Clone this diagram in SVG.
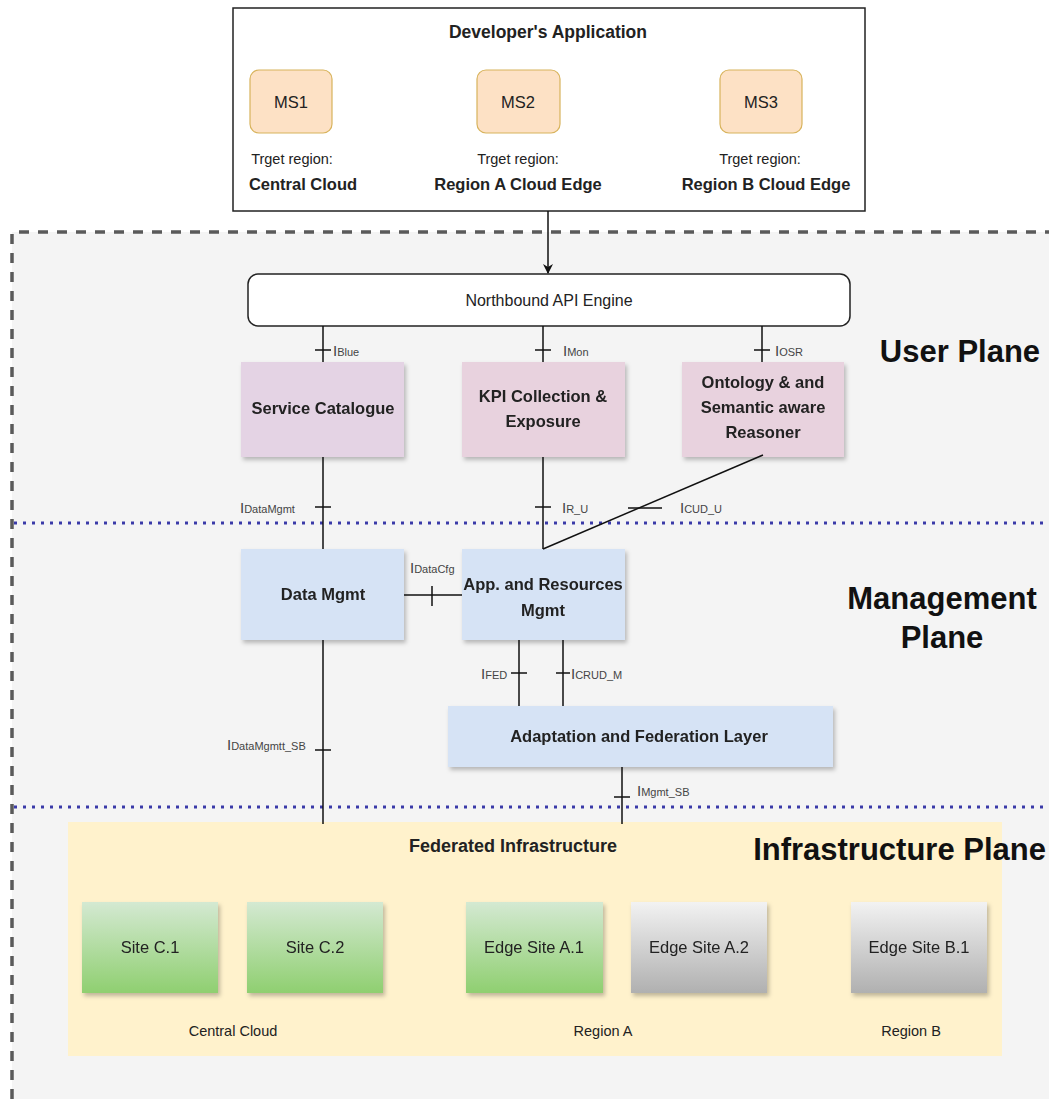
<svg xmlns="http://www.w3.org/2000/svg" width="1049" height="1099" viewBox="0 0 1049 1099">
  <style>
    text { font-family: "Liberation Sans", Arial, sans-serif; fill: #222; }
    .t { font-size: 16.5px; text-anchor: middle; }
    .b { font-weight: bold; }
    .reg { font-size: 14.5px; }
    .site { font-size: 16.5px; }
    .lbl { font-size: 15px; fill: #444; }
    .sub { font-size: 11px; }
    .plane { font-size: 31px; font-weight: bold; fill: #111; }
    .ms { fill: #fde1c5; stroke: #d8b35c; stroke-width: 1.2; }
    .up { fill: #e4d3e4; }
    .upk { fill: #e8d2de; }
    .mp { fill: #d6e3f5; }
    .wire { stroke: #111; stroke-width: 1.5; fill: none; }
    .tick { stroke: #111; stroke-width: 1.5; }
    .sep { stroke: #3a3aa8; stroke-width: 3; stroke-dasharray: 3 6; }
  </style>
  <defs>
    <marker id="arrow" markerWidth="10" markerHeight="10" refX="9" refY="5" orient="auto" markerUnits="userSpaceOnUse">
      <path d="M0,0 L10,5 L0,10 L3,5 Z" fill="#111"/>
    </marker>
    <linearGradient id="green" x1="0" y1="0" x2="0" y2="1">
      <stop offset="0" stop-color="#d4e9d2"/>
      <stop offset="1" stop-color="#8fcf70"/>
    </linearGradient>
    <linearGradient id="gray" x1="0" y1="0" x2="0" y2="1">
      <stop offset="0" stop-color="#f2f2f2"/>
      <stop offset="1" stop-color="#b0b0b0"/>
    </linearGradient>
    <filter id="shadow" x="-10%" y="-10%" width="125%" height="130%">
      <feDropShadow dx="2" dy="3" stdDeviation="2" flood-color="#000" flood-opacity="0.25"/>
    </filter>
  </defs>

  <!-- page background -->
  <rect x="0" y="0" width="1049" height="1099" fill="#ffffff"/>
  <!-- platform area -->
  <rect x="12" y="232" width="1037" height="867" fill="#f4f4f4"/>
  <path d="M12,1099 V232 H1049" fill="none" stroke="#5a5a5a" stroke-width="3.5" stroke-dasharray="10 9"/>

  <!-- plane separators -->
  <line class="sep" x1="14" y1="523" x2="1049" y2="523"/>
  <line class="sep" x1="14" y1="807" x2="1049" y2="807"/>

  <!-- plane titles -->
  <text class="plane" x="960" y="362" text-anchor="middle">User Plane</text>
  <text class="plane" x="942" y="609" text-anchor="middle">Management</text>
  <text class="plane" x="942" y="648" text-anchor="middle">Plane</text>

  <!-- developer application -->
  <g id="developer-app">
    <rect x="233" y="8" width="632" height="203" fill="#fff" stroke="#222" stroke-width="1.5"/>
    <text class="t b" x="548" y="38" style="font-size:17.5px">Developer's Application</text>
  </g>
  <g id="ms1">
    <rect class="ms" x="250" y="70" width="82" height="63" rx="9"/>
    <text class="t" x="291" y="108">MS1</text>
    <text class="t reg" x="292" y="164">Trget region:</text>
    <text class="t b" x="303" y="190">Central Cloud</text>
  </g>
  <g id="ms2">
    <rect class="ms" x="477" y="70" width="83" height="63" rx="9"/>
    <text class="t" x="518" y="108">MS2</text>
    <text class="t reg" x="518" y="164">Trget region:</text>
    <text class="t b" x="518" y="190">Region A Cloud Edge</text>
  </g>
  <g id="ms3">
    <rect class="ms" x="720" y="70" width="82" height="63" rx="9"/>
    <text class="t" x="761" y="108">MS3</text>
    <text class="t reg" x="760" y="164">Trget region:</text>
    <text class="t b" x="766" y="190">Region B Cloud Edge</text>
  </g>

  <!-- user plane -->
  <g id="northbound-api">
    <rect x="248" y="274" width="602" height="52" rx="10" fill="#fff" stroke="#222" stroke-width="1.5"/>
    <text class="t" x="549" y="306" style="font-size:16px">Northbound API Engine</text>
  </g>
  <g id="service-catalogue" filter="url(#shadow)">
    <rect class="up" x="241" y="362" width="163" height="95"/>
    <text class="t b" x="323" y="414">Service Catalogue</text>
  </g>
  <g id="kpi-collection" filter="url(#shadow)">
    <rect class="upk" x="462" y="362" width="163" height="95"/>
    <text class="t b" x="543" y="402">KPI Collection &amp;</text>
    <text class="t b" x="543" y="427">Exposure</text>
  </g>
  <g id="ontology-reasoner" filter="url(#shadow)">
    <rect class="upk" x="682" y="362" width="162" height="95"/>
    <text class="t b" x="763" y="388">Ontology &amp; and</text>
    <text class="t b" x="763" y="413">Semantic aware</text>
    <text class="t b" x="763" y="438">Reasoner</text>
  </g>

  <!-- management plane -->
  <g id="data-mgmt" filter="url(#shadow)">
    <rect class="mp" x="241" y="549" width="163" height="91"/>
    <text class="t b" x="323" y="600">Data Mgmt</text>
  </g>
  <g id="app-resources-mgmt" filter="url(#shadow)">
    <rect class="mp" x="462" y="549" width="163" height="91"/>
    <text class="t b" x="543" y="590">App. and Resources</text>
    <text class="t b" x="543" y="616">Mgmt</text>
  </g>
  <g id="adaptation-federation" filter="url(#shadow)">
    <rect class="mp" x="448" y="706" width="385" height="61"/>
    <text class="t b" x="639" y="742">Adaptation and Federation Layer</text>
  </g>

  <!-- infrastructure plane -->
  <g id="federated-infrastructure">
    <rect x="68" y="822" width="934" height="234" fill="#fff2cc"/>
    <text class="t b" x="513" y="852" style="font-size:18px">Federated Infrastructure</text>
    <text class="plane" x="1046" y="860" text-anchor="end">Infrastructure Plane</text>
    <text class="t reg" x="233" y="1036">Central Cloud</text>
    <text class="t reg" x="603" y="1036">Region A</text>
    <text class="t reg" x="911" y="1036">Region B</text>
  </g>
  <g id="site-c1" filter="url(#shadow)">
    <rect x="82" y="902" width="136" height="91" fill="url(#green)"/>
    <text class="t site" x="150" y="953">Site C.1</text>
  </g>
  <g id="site-c2" filter="url(#shadow)">
    <rect x="247" y="902" width="136" height="91" fill="url(#green)"/>
    <text class="t site" x="315" y="953">Site C.2</text>
  </g>
  <g id="edge-site-a1" filter="url(#shadow)">
    <rect x="466" y="902" width="137" height="91" fill="url(#green)"/>
    <text class="t site" x="534" y="953">Edge Site A.1</text>
  </g>
  <g id="edge-site-a2" filter="url(#shadow)">
    <rect x="631" y="902" width="136" height="91" fill="url(#gray)"/>
    <text class="t site" x="699" y="953">Edge Site A.2</text>
  </g>
  <g id="edge-site-b1" filter="url(#shadow)">
    <rect x="851" y="902" width="136" height="91" fill="url(#gray)"/>
    <text class="t site" x="919" y="953">Edge Site B.1</text>
  </g>

  <!-- connectors and interface ticks -->
  <g id="connectors">
    <line class="wire" x1="548" y1="211" x2="548" y2="273" marker-end="url(#arrow)"/>

    <line class="wire" x1="323" y1="326" x2="323" y2="362"/>
    <line class="tick" x1="315" y1="350" x2="331" y2="350"/>
    <text class="lbl" x="333" y="356">I<tspan class="sub">Blue</tspan></text>

    <line class="wire" x1="543" y1="326" x2="543" y2="362"/>
    <line class="tick" x1="535" y1="350" x2="551" y2="350"/>
    <text class="lbl" x="563" y="356">I<tspan class="sub">Mon</tspan></text>

    <line class="wire" x1="762" y1="326" x2="762" y2="362"/>
    <line class="tick" x1="754" y1="350" x2="770" y2="350"/>
    <text class="lbl" x="775" y="356">I<tspan class="sub">OSR</tspan></text>

    <line class="wire" x1="323" y1="457" x2="323" y2="549"/>
    <line class="tick" x1="315" y1="507" x2="331" y2="507"/>
    <text class="lbl" x="240" y="513">I<tspan class="sub">DataMgmt</tspan></text>

    <line class="wire" x1="543" y1="457" x2="543" y2="549"/>
    <line class="tick" x1="535" y1="507" x2="551" y2="507"/>
    <text class="lbl" x="562" y="513">I<tspan class="sub">R_U</tspan></text>

    <line class="wire" x1="763" y1="455" x2="543" y2="549"/>
    <line class="tick" x1="628" y1="508" x2="662" y2="508"/>
    <text class="lbl" x="680" y="513">I<tspan class="sub">CUD_U</tspan></text>

    <line class="wire" x1="404" y1="595" x2="462" y2="595"/>
    <line class="tick" x1="432" y1="586" x2="432" y2="606"/>
    <text class="lbl" x="410" y="573">I<tspan class="sub">DataCfg</tspan></text>

    <line class="wire" x1="519" y1="640" x2="519" y2="706"/>
    <line class="tick" x1="511" y1="673" x2="527" y2="673"/>
    <text class="lbl" x="481" y="679">I<tspan class="sub">FED</tspan></text>

    <line class="wire" x1="563" y1="640" x2="563" y2="706"/>
    <line class="tick" x1="556" y1="673" x2="570" y2="673"/>
    <text class="lbl" x="571" y="679">I<tspan class="sub">CRUD_M</tspan></text>

    <line class="wire" x1="323" y1="640" x2="323" y2="824"/>
    <line class="tick" x1="315" y1="750" x2="331" y2="750"/>
    <text class="lbl" x="227" y="750">I<tspan class="sub">DataMgmtt_SB</tspan></text>

    <line class="wire" x1="622" y1="767" x2="622" y2="824"/>
    <line class="tick" x1="614" y1="797" x2="630" y2="797"/>
    <text class="lbl" x="637" y="796">I<tspan class="sub">Mgmt_SB</tspan></text>
  </g>
</svg>
